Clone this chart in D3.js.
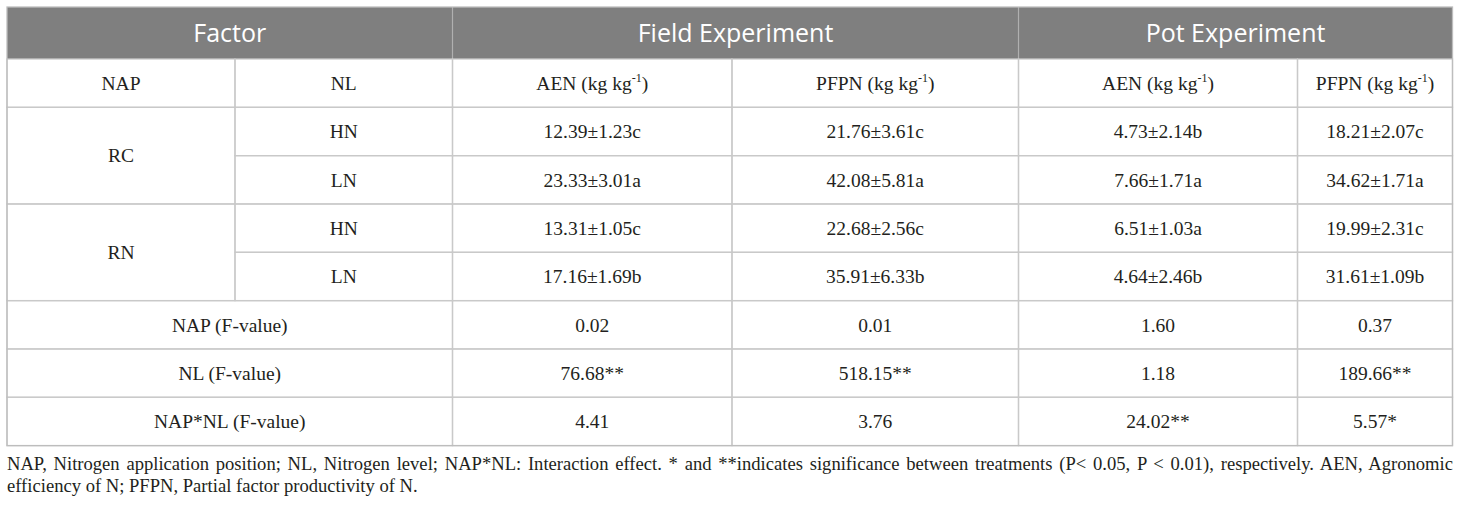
<!DOCTYPE html>
<html><head><meta charset="utf-8">
<script src="https://cdn.jsdelivr.net/npm/d3@7"></script>
<style>
html,body{margin:0;padding:0;background:#fff;}
#note{position:absolute;left:7px;top:453px;width:1446px;font-family:"Liberation Serif","Times New Roman",serif;font-size:18.6px;color:#231f20;line-height:22px;}
#note div.l1{text-align:justify;text-align-last:justify;white-space:nowrap;}
</style></head>
<body>
<svg id="chart" width="1460" height="507" style="position:absolute;left:0;top:0"></svg>
<div id="note"></div>
<script>
// ---- data ----
const groupHeaders = ["Factor", "Field Experiment", "Pot Experiment"];
const subHeaders = ["NAP", "NL", "AEN", "PFPN", "AEN", "PFPN"];
const napLevels = ["RC", "RN"];
const nlLevels = ["HN", "LN", "HN", "LN"];
const fieldAENMean = [12.39, 23.33, 13.31, 17.16];
const fieldAENSd   = [1.23, 3.01, 1.05, 1.69];
const fieldAENLet  = ["c", "a", "c", "b"];
const fieldPFPNMean = [21.76, 42.08, 22.68, 35.91];
const fieldPFPNSd   = [3.61, 5.81, 2.56, 6.33];
const fieldPFPNLet  = ["c", "a", "c", "b"];
const potAENMean = [4.73, 7.66, 6.51, 4.64];
const potAENSd   = [2.14, 1.71, 1.03, 2.46];
const potAENLet  = ["b", "a", "a", "b"];
const potPFPNMean = [18.21, 34.62, 19.99, 31.61];
const potPFPNSd   = [2.07, 1.71, 2.31, 1.09];
const potPFPNLet  = ["c", "a", "c", "b"];
const fRows = ["NAP (F-value)", "NL (F-value)", "NAP*NL (F-value)"];
const fieldAENF = [0.02, 76.68, 4.41];   const fieldAENSig = ["", "**", ""];
const fieldPFPNF = [0.01, 518.15, 3.76]; const fieldPFPNSig = ["", "**", ""];
const potAENF = [1.60, 1.18, 24.02];     const potAENSig = ["", "", "**"];
const potPFPNF = [0.37, 189.66, 5.57];   const potPFPNSig = ["", "**", "*"];
const footLine1 = "NAP, Nitrogen application position; NL, Nitrogen level; NAP*NL: Interaction effect. * and **indicates significance between treatments (P< 0.05, P < 0.01), respectively. AEN, Agronomic";
const footLine2 = "efficiency of N; PFPN, Partial factor productivity of N.";

// ---- layout ----
const svg = d3.select("#chart");
const colEdges = [7, 235, 452.5, 732, 1018.5, 1297.5, 1452.5];
const x = d3.scaleOrdinal().domain(d3.range(7)).range(colEdges);
const y = d3.scaleLinear().domain([0, 8]).range([59, 445.6]);
const headTop = 7;
const gridColor = "#c9c9c9";
const serif = "'Liberation Serif','Times New Roman',serif";
const bodyColor = "#231f20";

// header band
svg.append("rect").attr("x", x(0)).attr("y", headTop).attr("width", x(6) - x(0)).attr("height", y(0) - headTop).attr("fill", "#7f7f7f");
const groupSpans = [[0, 2], [2, 4], [4, 6]];
svg.selectAll(".gh").data(groupHeaders).join("text")
  .attr("x", (d, i) => (x(groupSpans[i][0]) + x(groupSpans[i][1])) / 2)
  .attr("y", (headTop + y(0)) / 2)
  .attr("dy", "0.36em").attr("text-anchor", "middle")
  .attr("fill", "#fff").style("font-family", "'Open Sans','Noto Sans',sans-serif").style("font-size", "25px")
  .text(d => d);
// header dividers
svg.selectAll(".ghl").data([2, 4]).join("line")
  .attr("x1", d => x(d)).attr("x2", d => x(d)).attr("y1", headTop).attr("y2", y(0))
  .attr("stroke", "#b0b0b0").attr("stroke-width", 1.2);

// cells definitions
const cells = [];
subHeaders.forEach((s, i) => cells.push({c0: i, c1: i + 1, r0: 0, r1: 1, text: s, unit: i >= 2}));
napLevels.forEach((n, i) => cells.push({c0: 0, c1: 1, r0: 1 + 2 * i, r1: 3 + 2 * i, text: n}));
nlLevels.forEach((n, i) => cells.push({c0: 1, c1: 2, r0: 1 + i, r1: 2 + i, text: n}));
const cols = [
  [fieldAENMean, fieldAENSd, fieldAENLet],
  [fieldPFPNMean, fieldPFPNSd, fieldPFPNLet],
  [potAENMean, potAENSd, potAENLet],
  [potPFPNMean, potPFPNSd, potPFPNLet]
];
cols.forEach((c, j) => c[0].forEach((m, i) =>
  cells.push({c0: 2 + j, c1: 3 + j, r0: 1 + i, r1: 2 + i, text: m.toFixed(2) + "±" + c[1][i].toFixed(2) + c[2][i]})));
fRows.forEach((f, i) => cells.push({c0: 0, c1: 2, r0: 5 + i, r1: 6 + i, text: f}));
const fcols = [[fieldAENF, fieldAENSig], [fieldPFPNF, fieldPFPNSig], [potAENF, potAENSig], [potPFPNF, potPFPNSig]];
fcols.forEach((c, j) => c[0].forEach((v, i) =>
  cells.push({c0: 2 + j, c1: 3 + j, r0: 5 + i, r1: 6 + i, text: v.toFixed(2) + c[1][i]})));

// cell borders
const g = svg.append("g");
g.selectAll("rect.cell").data(cells).join("rect")
  .attr("x", d => x(d.c0)).attr("y", d => y(d.r0))
  .attr("width", d => x(d.c1) - x(d.c0)).attr("height", d => y(d.r1) - y(d.r0))
  .attr("fill", "none").attr("stroke", gridColor).attr("stroke-width", 1.3);

// cell texts
const t = g.selectAll("text.cell").data(cells).join("text")
  .attr("x", d => (x(d.c0) + x(d.c1)) / 2)
  .attr("y", d => (y(d.r0) + y(d.r1)) / 2)
  .attr("dy", "0.35em").attr("text-anchor", "middle")
  .attr("fill", bodyColor).style("font-family", serif).style("font-size", "19.5px");
t.each(function(d) {
  const el = d3.select(this);
  if (d.unit) {
    el.append("tspan").text(d.text + " (kg kg");
    el.append("tspan").attr("dy", "-8").style("font-size", "12px").text("-1");
    el.append("tspan").attr("dy", "8").text(")");
  } else {
    el.text(d.text);
  }
});

// outer border
svg.append("rect").attr("x", x(0)).attr("y", headTop).attr("width", x(6) - x(0)).attr("height", y(8) - headTop)
  .attr("fill", "none").attr("stroke", "#bdbdbd").attr("stroke-width", 1.3);

// footnote
const note = d3.select("#note");
note.append("div").attr("class", "l1").text(footLine1);
note.append("div").text(footLine2);
</script>
</body></html>
